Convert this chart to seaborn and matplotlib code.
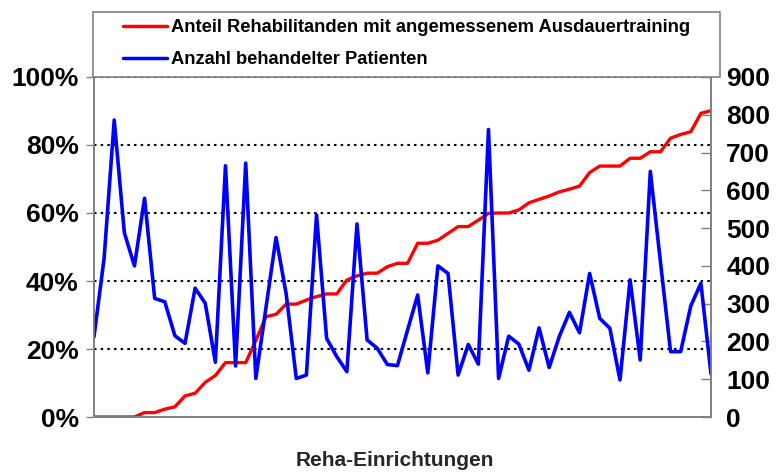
import pandas as pd
import matplotlib
matplotlib.use("Agg")
import matplotlib.pyplot as plt
from matplotlib.patches import Rectangle
import seaborn as sns

# Anteil Rehabilitanden mit angemessenem Ausdauertraining (%), sorted per Einrichtung
anteil = [0, 0, 0, 0, 0, 1.3, 1.3, 2.3, 3, 6.2, 7, 10.2, 12.2, 16, 16, 16,
          22.5, 29.5, 30.2, 33.2, 33.2, 34.4, 35.4, 36.2, 36.2, 40.3, 41.5,
          42.3, 42.3, 44.2, 45.2, 45.2, 51.1, 51.1, 52, 54, 56, 56, 57.9,
          59.9, 60, 60, 60.9, 63, 64, 65, 66.2, 67, 67.9, 71.9, 73.8, 73.8,
          73.8, 76.1, 76.1, 78, 78, 82, 83.1, 83.9, 89.3, 90.1]

# Anzahl behandelter Patienten
patienten = [212, 420, 786, 488, 400, 579, 314, 305, 215, 195, 341, 301, 145,
             665, 135, 672, 102, 289, 475, 326, 102, 111, 535, 208, 160, 120,
             511, 204, 182, 139, 136, 230, 323, 117, 400, 380, 111, 192, 140,
             761, 102, 214, 193, 124, 236, 131, 213, 277, 223, 380, 261, 235,
             98, 363, 151, 650, 411, 173, 173, 294, 354, 114]

label_anteil = "Anteil Rehabilitanden mit angemessenem Ausdauertraining"
label_patienten = "Anzahl behandelter Patienten"

df = pd.DataFrame({"einrichtung": range(len(anteil)),
                   "anteil": anteil,
                   "patienten": patienten})

sns.set_style("white")
plt.rcParams["font.family"] = ["Liberation Sans", "DejaVu Sans"]
plt.rcParams["font.weight"] = "bold"
plt.rcParams["text.color"] = "black"
plt.rcParams["ytick.labelcolor"] = "black"

fig = plt.figure(figsize=(7.78, 4.72), dpi=100)
ax = fig.add_axes([0.1208, 0.1165, 0.7931, 0.7204])
ax2 = ax.twinx()

sns.lineplot(data=df, x="einrichtung", y="anteil", ax=ax, color="#FF0000",
             linewidth=2.4, label=label_anteil, legend=False)
sns.lineplot(data=df, x="einrichtung", y="patienten", ax=ax2, color="#0000FF",
             linewidth=2.6, label=label_patienten, legend=False)

# left axis: percent
ax.set_xlim(0, len(anteil) - 1)
ax.set_ylim(0, 100)
ax.set_yticks(range(0, 101, 20))
ax.set_yticklabels([f"{v}%" for v in range(0, 101, 20)], fontsize=19, fontweight="bold")
ax.set_xticks(range(0, len(anteil), 3))
ax.set_xticklabels([])
ax.tick_params(axis="x", direction="out", length=5, width=1, color="#808080")
ax.tick_params(axis="y", direction="out", length=6, width=1, color="#808080", pad=5)
ax.set_ylabel("")
ax.set_xlabel("Reha-Einrichtungen", fontsize=15, fontweight="bold", labelpad=16)
ax.xaxis.label.set_x(0.488)
for y in range(20, 101, 20):
    ax.axhline(y, color="black", linestyle=(0, (1.2, 2.0)), linewidth=1.5, zorder=0)

# right axis: patients
ax2.set_ylim(0, 900)
ax2.set_yticks(range(0, 901, 100))
ax2.set_yticklabels([str(v) for v in range(0, 901, 100)], fontsize=19, fontweight="bold")
ax2.tick_params(axis="y", direction="in", length=7, width=1, color="#808080", pad=11)
ax2.set_ylabel("")

for a in (ax, ax2):
    for side, sp in a.spines.items():
        sp.set_color("#808080")
        sp.set_linewidth(1.2)
    a.spines["top"].set_visible(False)

# legend box (drawn separately so its size matches the original)
fig.patches.append(Rectangle((0.1195, 0.8369), 0.8059, 0.1377,
                             transform=fig.transFigure, fill=True,
                             facecolor="white", edgecolor="#808080",
                             linewidth=1.2, zorder=5))

h1, l1 = ax.get_legend_handles_labels()
h2, l2 = ax2.get_legend_handles_labels()
leg = fig.legend(h1 + h2, l1 + l2, loc="upper left",
                 bbox_to_anchor=(123 / 778, 1 - 19 / 472),
                 frameon=False, prop={"size": 13.2, "weight": "bold"},
                 handlelength=2.4, handletextpad=0.2, labelspacing=0.82,
                 borderpad=0, borderaxespad=0)
leg.set_zorder(6)
for ln in leg.get_lines():
    ln.set_linewidth(2.5)

fig.savefig("out.png", dpi=100)
